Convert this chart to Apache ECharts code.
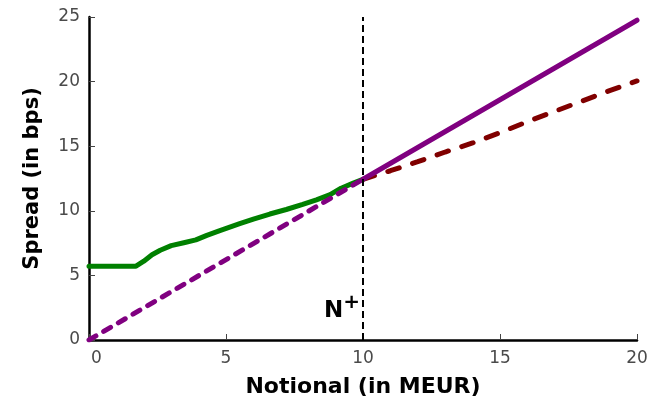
<!DOCTYPE html>
<html>
<head>
<meta charset="utf-8">
<script src="https://cdn.jsdelivr.net/npm/echarts@6/dist/echarts.min.js"></script>
<style>html,body{margin:0;padding:0;background:#fff}#c{width:652px;height:403px}</style>
</head>
<body>
<div id="c"></div>
<script>
// Data
const xTicks = [0, 5, 10, 15, 20];
const yTicks = [0, 5, 10, 15, 20, 25];
const nPlusX = 10;
const greenX = [0, 1.7, 2.0, 2.3, 2.6, 3.0, 3.5, 3.9, 4.3, 4.75, 5.5, 6.0, 6.6, 7.2, 7.8, 8.3, 8.8, 9.2, 9.6, 10];
const greenY = [5.7, 5.7, 6.1, 6.6, 6.95, 7.3, 7.55, 7.75, 8.1, 8.45, 9.0, 9.35, 9.75, 10.1, 10.5, 10.85, 11.25, 11.75, 12.1, 12.44];
const purpleDashX = [0, 10];
const purpleDashY = [0, 12.44];
const purpleSolidX = [10, 20];
const purpleSolidY = [12.44, 24.75];
const redX = [10, 11, 12, 13, 14, 15, 16, 17, 18, 19, 20];
const redY = [12.44, 13.1, 13.8, 14.55, 15.25, 16.05, 16.9, 17.7, 18.5, 19.3, 20.05];
const vlineY = [0, 25];

const zip = (xs, ys) => xs.map((x, i) => [x, ys[i]]);

const chart = echarts.init(document.getElementById('c'));
const tickFontFamily = '"DejaVu Sans", sans-serif';
const tickFont = {fontFamily: tickFontFamily, fontSize: 17, color: '#4a4a4a'};
const titleFont = {fontFamily: '"DejaVu Sans", sans-serif', fontWeight: 'bold', fontSize: 21, color: '#000'};
chart.setOption({
  animation: false,
  grid: {left: 89, right: 15, top: 17, bottom: 61, containLabel: false},
  xAxis: {
    type: 'value', min: xTicks[0], max: xTicks[xTicks.length - 1], interval: 5,
    name: 'Notional (in MEUR)', nameLocation: 'middle', nameGap: 36,
    nameTextStyle: Object.assign({}, titleFont, {fontSize: 22}),
    axisLine: {show: true, lineStyle: {color: '#000', width: 2.5}},
    axisTick: {show: true, inside: true, length: 6, lineStyle: {color: '#444', width: 1}},
    axisLabel: Object.assign({margin: 10,
      formatter: v => v === 0 ? '{z|0}' : String(v),
      rich: {z: {fontFamily: tickFontFamily, fontSize: 17, color: '#4a4a4a', padding: [0, 0, 0, 15]}}
    }, tickFont),
    splitLine: {show: false}
  },
  yAxis: {
    type: 'value', min: yTicks[0], max: yTicks[yTicks.length - 1], interval: 5,
    name: 'Spread (in bps)', nameLocation: 'middle', nameGap: 46, nameRotate: 90,
    nameTextStyle: titleFont,
    axisLine: {show: true, lineStyle: {color: '#000', width: 2.5}},
    axisTick: {show: true, inside: true, length: 6, lineStyle: {color: '#444', width: 1}},
    axisLabel: Object.assign({margin: 9}, tickFont),
    splitLine: {show: false}
  },
  series: [
    {type: 'line', data: zip(redX, redY), showSymbol: false, symbol: 'none', z: 2,
     lineStyle: {color: '#800000', width: 5, type: [12, 14], cap: 'round'}},
    {type: 'line', data: zip(greenX, greenY), showSymbol: false, symbol: 'none', z: 3,
     lineStyle: {color: '#008000', width: 5, cap: 'round'}},
    {type: 'line', data: zip(purpleDashX, purpleDashY), showSymbol: false, symbol: 'none', z: 4,
     lineStyle: {color: '#800080', width: 5, type: [8, 9], cap: 'round'}},
    {type: 'line', data: zip(purpleSolidX, purpleSolidY), showSymbol: false, symbol: 'none', z: 4,
     lineStyle: {color: '#800080', width: 5, cap: 'round'}},
    {type: 'line', data: zip([nPlusX, nPlusX], vlineY), showSymbol: false, symbol: 'none', z: 5,
     lineStyle: {color: '#000', width: 2, type: [7, 4]}}
  ]
});
const p = chart.convertToPixel({gridIndex: 0}, [nPlusX, 2.6]);
chart.setOption({
  graphic: [{
    type: 'text', x: p[0] - 39, y: p[1] - 14, z: 10,
    style: {
      text: '{n|N}{s|+}',
      rich: {
        n: {fontFamily: '"DejaVu Sans", sans-serif', fontWeight: 'bold', fontSize: 23, fill: '#000', verticalAlign: 'bottom'},
        s: {fontFamily: '"DejaVu Sans", sans-serif', fontWeight: 'bold', fontSize: 20, fill: '#000', verticalAlign: 'top', padding: [0, 0, 10, 0]}
      }
    }
  }]
});
</script>
</body>
</html>
